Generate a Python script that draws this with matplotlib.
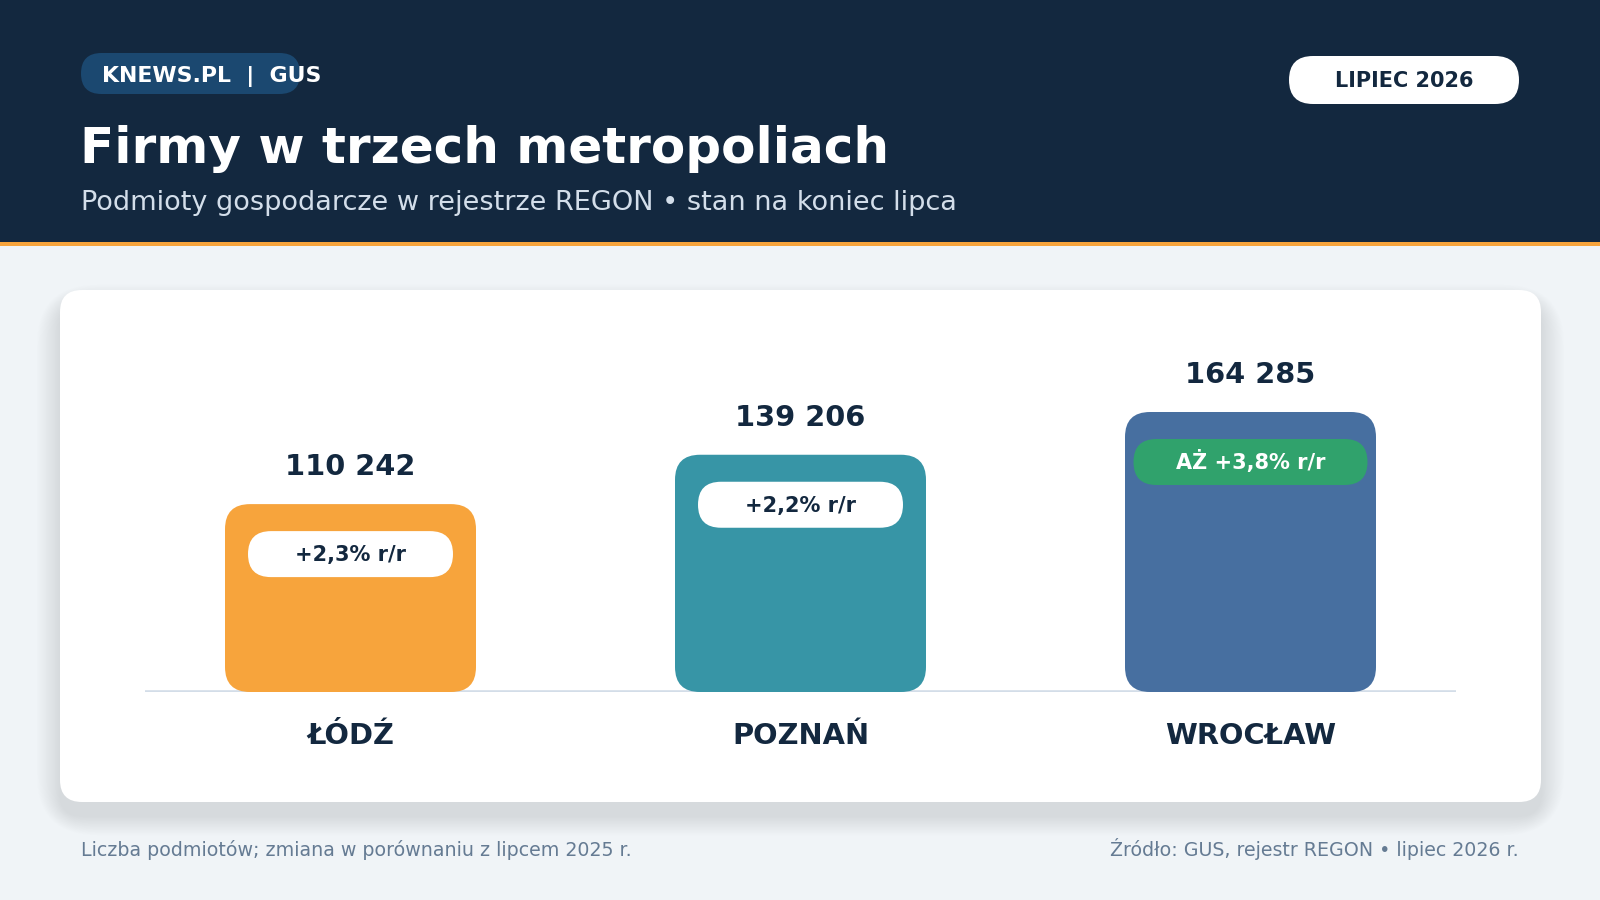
import matplotlib
matplotlib.use("Agg")
import matplotlib.pyplot as plt
from matplotlib.patches import FancyBboxPatch, Rectangle

# ---------------- data ----------------
cities = ["ŁÓDŹ", "POZNAŃ", "WROCŁAW"]
firms = [110242, 139206, 164285]
yoy_labels = ["+2,3% r/r", "+2,2% r/r", "AŻ +3,8% r/r"]

title = "Firmy w trzech metropoliach"
subtitle = "Podmioty gospodarcze w rejestrze REGON • stan na koniec lipca"
brand = "KNEWS.PL  |  GUS"
badge = "LIPIEC 2026"
note_left = "Liczba podmiotów; zmiana w porównaniu z lipcem 2025 r."
note_right = "Źródło: GUS, rejestr REGON • lipiec 2026 r."

# ---------------- style ----------------
NAVY = "#13283f"
ORANGE = "#f7a43c"
BG = "#f0f4f7"
bar_colors = [ORANGE, "#3795a6", "#476fa0"]
pill_faces = ["#ffffff", "#ffffff", "#30a26c"]
pill_text_colors = [NAVY, NAVY, "#ffffff"]
pill_widths_px = [205, 205, 234]

W, H = 1600, 900
fig = plt.figure(figsize=(16, 9), dpi=100)
fig.patch.set_facecolor(BG)

bg = fig.add_axes([0, 0, 1, 1])
bg.set_xlim(0, W)
bg.set_ylim(H, 0)
bg.axis("off")
bg.set_zorder(0)

# header
bg.add_patch(Rectangle((0, 0), W, 242, facecolor=NAVY, edgecolor="none"))
bg.add_patch(Rectangle((0, 242), W, 4, facecolor=ORANGE, edgecolor="none"))

# brand pill
bg.add_patch(FancyBboxPatch((81, 53), 219, 41,
                            boxstyle="round,pad=0,rounding_size=20.5",
                            facecolor="#1b4870", edgecolor="none"))
bg.text(102, 82, brand, color="white", fontsize=15.8, fontweight="bold",
        va="baseline", ha="left")

# date badge
bg.add_patch(FancyBboxPatch((1289, 56), 230, 48,
                            boxstyle="round,pad=0,rounding_size=24",
                            facecolor="white", edgecolor="none"))
bg.text(1404, 87, badge, color=NAVY, fontsize=15, fontweight="bold",
        va="baseline", ha="center")

bg.text(80, 163, title, color="white", fontsize=36, fontweight="bold",
        va="baseline", ha="left")
bg.text(81, 210, subtitle, color="#d3deea", fontsize=19.5,
        va="baseline", ha="left")

# card with soft shadow
cx, cy, cw, ch = 60, 290, 1481, 512
for i in range(26, 0, -1):
    g = i * 1.5
    bg.add_patch(FancyBboxPatch((cx - g * 0.6, cy + 14 - g * 0.5), cw + g * 1.2, ch + g * 1.0,
                                boxstyle=f"round,pad=0,rounding_size={22 + g}",
                                facecolor="#1a2a40", edgecolor="none", alpha=0.0045))
bg.add_patch(FancyBboxPatch((cx, cy), cw, ch,
                            boxstyle="round,pad=0,rounding_size=22",
                            facecolor="white", edgecolor="none"))

# footer
bg.text(81, 856.5, note_left, color="#657b93", fontsize=13.7, va="baseline", ha="left")
bg.text(1519, 856.5, note_right, color="#657b93", fontsize=13.7, va="baseline", ha="right")

# ---------------- bars ----------------
ax_left, ax_w = 145, 1311
ax_base, ax_h = 692, 392
ax = fig.add_axes([ax_left / W, (H - ax_base) / H, ax_w / W, ax_h / H])
ax.set_zorder(1)
ax.patch.set_alpha(0)
ax.axis("off")
half = ax_w / 450 / 2
ax.set_xlim(1 - half, 1 + half)
ymax = 230000
ax.set_ylim(0, ymax)

xpx = (2 * half) / ax_w      # x data units per pixel
ypx = ymax / ax_h            # y data units per pixel
aspect = ypx / xpx

ax.axhline(0, color="#d3dde8", lw=2.6, zorder=1)

bar_w = 251 * xpx
for i, (v, col) in enumerate(zip(firms, bar_colors)):
    ax.add_patch(FancyBboxPatch((i - bar_w / 2, 0), bar_w, v,
                                boxstyle=f"round,pad=0,rounding_size={25 * xpx}",
                                mutation_aspect=aspect,
                                facecolor=col, edgecolor="none", zorder=2))
    # pill
    pw = pill_widths_px[i] * xpx
    ph = 46 * ypx
    ptop = v - 27 * ypx
    ax.add_patch(FancyBboxPatch((i - pw / 2, ptop - ph), pw, ph,
                                boxstyle=f"round,pad=0,rounding_size={23 * xpx}",
                                mutation_aspect=aspect,
                                facecolor=pill_faces[i], edgecolor="none", zorder=3))
    ax.annotate(yoy_labels[i], xy=(i, v), xytext=(0, -57), textcoords="offset pixels",
                ha="center", va="baseline", fontsize=15, fontweight="bold",
                color=pill_text_colors[i], zorder=4)
    ax.annotate(f"{v:,}".replace(",", " "), xy=(i, v), xytext=(0, 29),
                textcoords="offset pixels", ha="center", va="baseline",
                fontsize=20.8, fontweight="bold", color=NAVY, zorder=4)
    ax.annotate(cities[i], xy=(i, 0), xytext=(0, -52), textcoords="offset pixels",
                ha="center", va="baseline", fontsize=20.8, fontweight="bold",
                color=NAVY, zorder=4, annotation_clip=False)

fig.savefig("out.png", dpi=100, facecolor=BG)
